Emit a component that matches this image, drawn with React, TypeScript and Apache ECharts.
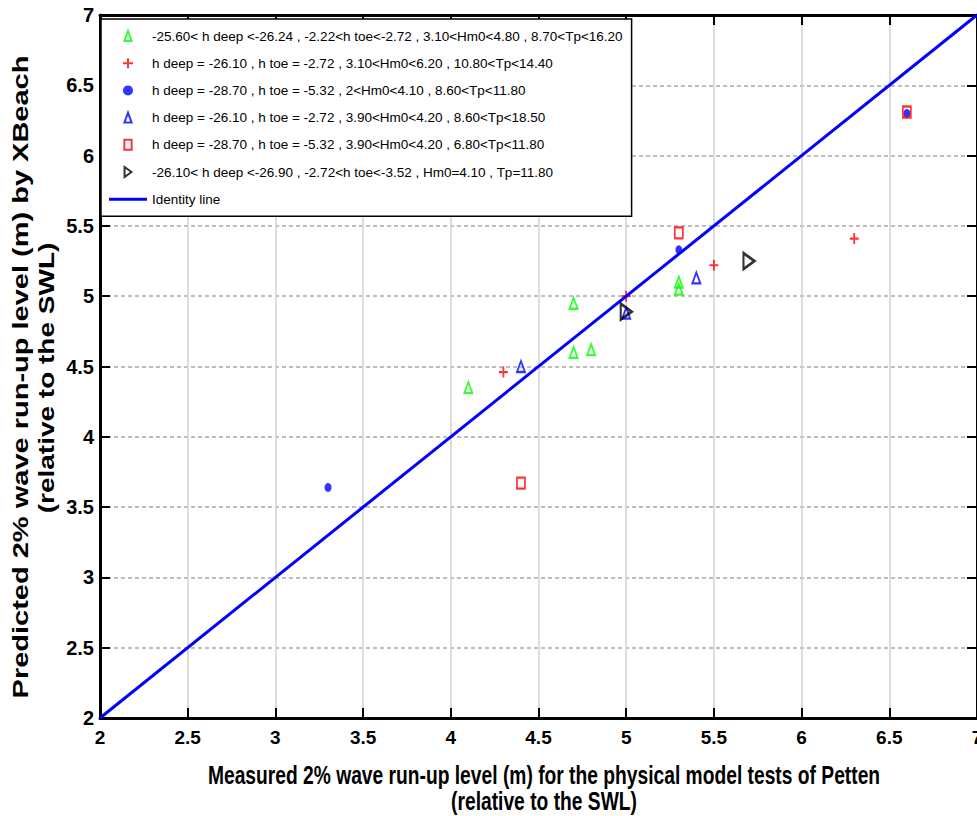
import React, { useEffect, useRef } from "react";
import * as echarts from "echarts";

// Axis ticks (both axes run from 2 to 7 m in steps of 0.5)
const X_TICKS = [2, 2.5, 3, 3.5, 4, 4.5, 5, 5.5, 6, 6.5, 7];
const Y_TICKS = [2, 2.5, 3, 3.5, 4, 4.5, 5, 5.5, 6, 6.5, 7];

// Legend labels, one per test group
const GROUP_NAMES = [
  "-25.60< h deep <-26.24 , -2.22<h toe<-2.72 , 3.10<Hm0<4.80 , 8.70<Tp<16.20",
  "h deep = -26.10 , h toe = -2.72 , 3.10<Hm0<6.20 , 10.80<Tp<14.40",
  "h deep = -28.70 , h toe = -5.32 , 2<Hm0<4.10 , 8.60<Tp<11.80",
  "h deep = -26.10 , h toe = -2.72 , 3.90<Hm0<4.20 , 8.60<Tp<18.50",
  "h deep = -28.70 , h toe = -5.32 , 3.90<Hm0<4.20 , 6.80<Tp<11.80",
  "-26.10< h deep <-26.90 , -2.72<h toe<-3.52 , Hm0=4.10 , Tp=11.80",
];
const IDENTITY_NAME = "Identity line";

// [measured, predicted] run-up levels (m)
const greenTriangles = [
  [4.1, 4.35],
  [4.7, 4.95],
  [4.7, 4.6],
  [4.8, 4.62],
  [5.3, 5.1],
  [5.3, 5.05],
];
const redPlus = [
  [4.3, 4.46],
  [5.0, 5.0],
  [5.5, 5.22],
  [6.3, 5.41],
];
const blueDots = [
  [3.3, 3.64],
  [5.3, 5.33],
  [6.6, 6.3],
];
const blueTriangles = [
  [4.4, 4.5],
  [5.4, 5.13],
  [5.0, 4.88],
];
const redSquares = [
  [5.3, 5.45],
  [4.4, 3.67],
  [6.6, 6.31],
];
const blackTriangles = [
  [5.0, 4.89],
  [5.7, 5.25],
];
const identityLine = [
  [2, 2],
  [7, 7],
];

const X_TITLE = [
  "Measured 2% wave run-up level (m) for the physical model tests of Petten",
  "(relative to the SWL)",
];
const Y_TITLE = ["Predicted 2% wave run-up level (m) by XBeach", "(relative to the SWL)"];

const FONT = "'Liberation Sans', Arial, Helvetica, sans-serif";

const TRIANGLE = "path://M5,0 L10,14 L0,14 Z";
const PLUS = "path://M4,0 H6 V4 H10 V6 H6 V10 H4 V6 H0 V4 H4 Z";
const SQUARE = "path://M0,0 H8 V11 H0 Z";
const RIGHT_TRIANGLE = "path://M0,0 L11,8 L0,16 Z";
const LINE_ICON = "path://M0,0 H38 V3 H0 Z";

function hollow(color: string, width: number) {
  return { color: "rgba(0,0,0,0)", borderColor: color, borderWidth: width };
}

function frameAxis(position: string, ticks: number[], withLabels: boolean, split: any) {
  return {
    type: "value",
    position,
    min: ticks[0],
    max: ticks[ticks.length - 1],
    interval: ticks[1] - ticks[0],
    axisLine: { show: true, onZero: false, lineStyle: { color: "#000", width: 3 } },
    axisTick: { show: true, inside: true, length: 10, lineStyle: { color: "#000", width: 2 } },
    axisLabel: withLabels
      ? { show: true, color: "#000", fontWeight: "bold", fontFamily: FONT }
      : { show: false },
    splitLine: split,
  };
}

function titleText(text: string, x: number, y: number, size: number, extra: any) {
  return {
    type: "text",
    x,
    y,
    ...extra,
    style: {
      text,
      fontSize: size,
      fontWeight: "bold",
      fontFamily: FONT,
      lineHeight: size,
      fill: "#000",
      textAlign: "center",
      textVerticalAlign: "middle",
    },
  };
}

export default function App() {
  const ref = useRef<HTMLDivElement>(null);

  useEffect(() => {
    const chart = echarts.init(ref.current!, null, { renderer: "svg" });

    const xBottom: any = frameAxis("bottom", X_TICKS, true, {
      show: true,
      lineStyle: { color: "#d2d2d2", width: 1.5, type: "solid" },
    });
    xBottom.axisLabel.fontSize = 19;
    xBottom.axisLabel.margin = 10;
    const xTop: any = frameAxis("top", X_TICKS, false, { show: false });

    const yLeft: any = frameAxis("left", Y_TICKS, true, {
      show: true,
      lineStyle: { color: "#ababab", width: 1.5, type: [4, 3] },
    });
    yLeft.axisLabel.fontSize = 20;
    yLeft.axisLabel.margin = 6;
    const yRight: any = frameAxis("right", Y_TICKS, false, { show: false });

    chart.setOption({
      animation: false,
      backgroundColor: "#fff",
      grid: {
        left: 100,
        right: 0,
        top: 15,
        bottom: 98,
        containLabel: false,
        outerBoundsMode: "none",
      },
      xAxis: [xBottom, xTop],
      yAxis: [yLeft, yRight],
      legend: {
        orient: "vertical",
        left: 101,
        top: 19,
        backgroundColor: "#fff",
        borderColor: "#000",
        borderWidth: 1.5,
        borderRadius: 0,
        padding: [10, 9, 10, 8],
        itemGap: 13.2,
        itemWidth: 38,
        itemHeight: 10,
        textStyle: { color: "#000", fontSize: 13.5, fontFamily: FONT },
        data: [
          ...GROUP_NAMES,
          {
            name: IDENTITY_NAME,
            icon: LINE_ICON,
            itemStyle: { color: "#0000ff", borderWidth: 0, opacity: 1 },
          },
        ],
      },
      graphic: [
        titleText(X_TITLE[0], 544, 775, 26, { scaleX: 0.74 }),
        titleText(X_TITLE[1], 544, 801, 26, { scaleX: 0.74 }),
        titleText(Y_TITLE[0], 20, 377, 29, { rotation: Math.PI / 2, scaleY: 0.76 }),
        titleText(Y_TITLE[1], 46, 378, 28, { rotation: Math.PI / 2, scaleY: 0.76 }),
      ],
      series: [
        {
          name: GROUP_NAMES[0],
          type: "scatter",
          data: greenTriangles,
          symbol: TRIANGLE,
          symbolSize: [8, 11],
          itemStyle: hollow("#00ff00", 2),
        },
        {
          name: GROUP_NAMES[1],
          type: "scatter",
          data: redPlus,
          symbol: PLUS,
          symbolSize: [9, 11],
          itemStyle: { color: "#ff0000" },
        },
        {
          name: GROUP_NAMES[2],
          type: "scatter",
          data: blueDots,
          symbol: "circle",
          symbolSize: [7, 9],
          itemStyle: { color: "#0000ff" },
        },
        {
          name: GROUP_NAMES[3],
          type: "scatter",
          data: blueTriangles,
          symbol: TRIANGLE,
          symbolSize: [8, 11],
          itemStyle: hollow("#0000ff", 2),
        },
        {
          name: GROUP_NAMES[4],
          type: "scatter",
          data: redSquares,
          symbol: SQUARE,
          symbolSize: [8, 11],
          itemStyle: hollow("#ff0000", 2),
        },
        {
          name: GROUP_NAMES[5],
          type: "scatter",
          data: blackTriangles,
          symbol: RIGHT_TRIANGLE,
          symbolSize: [11, 16],
          itemStyle: hollow("#000000", 2.5),
        },
        {
          name: IDENTITY_NAME,
          type: "line",
          data: identityLine,
          symbol: "none",
          lineStyle: { color: "#0000ff", width: 3 },
          itemStyle: { color: "#0000ff" },
        },
      ],
    });

    return () => chart.dispose();
  }, []);

  return (
    <div
      ref={ref}
      style={{ position: "absolute", left: 0, top: 0, width: 977, height: 816, background: "#fff" }}
    />
  );
}
